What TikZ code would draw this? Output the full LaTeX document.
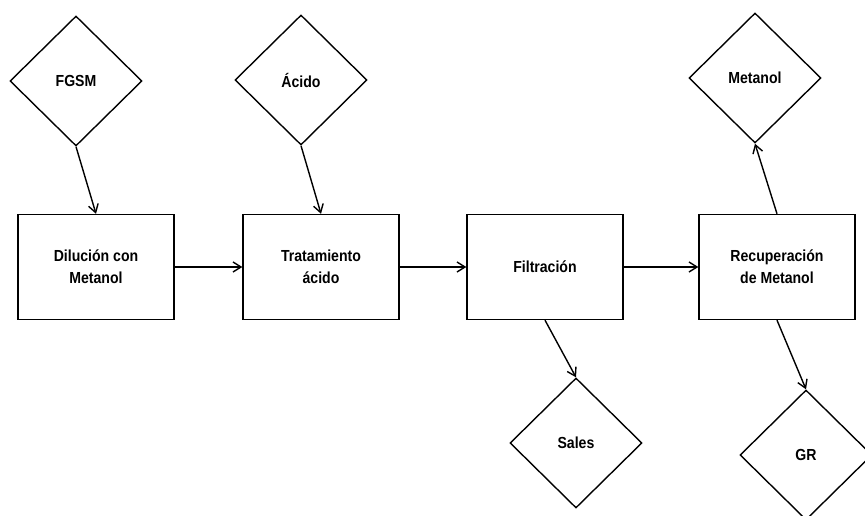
\documentclass[tikz,border=0pt]{standalone}
\usepackage{fontspec}
\setmainfont{Liberation Sans}[FakeStretch=0.88]
\usetikzlibrary{shapes.geometric,arrows.meta}

\tikzset{
    etapa/.style={draw, line width=1.4pt, minimum width=156pt, minimum height=105pt, align=center, font=\fontsize{16}{22}\selectfont\bfseries},
    flujo/.style={draw, line width=1.4pt, diamond, minimum width=132pt, minimum height=130pt, inner sep=0pt, font=\fontsize{16}{20}\selectfont\bfseries},
    flecha/.style={-{Straight Barb[length=8pt,width=10pt]}, line width=1.4pt}
}

\begin{document}
\begin{tikzpicture}[x=1pt,y=-1pt]
        \useasboundingbox (0,0) rectangle (865,516);

        \node[etapa] (dil) at (96,267) {Dilución con\\Metanol};
        \node[etapa] (trat) at (321,267) {Tratamiento\\ácido};
        \node[etapa] (fil) at (545,267) {Filtración};
        \node[etapa] (rec) at (777,267) {Recuperación\\de Metanol};

        \node[flujo] (fgsm) at (76,81) {FGSM};
        \node[flujo] (acido) at (301,80) {Ácido};
        \node[flujo] (met) at (755,78) {Metanol};
        \node[flujo] (sales) at (576,443) {Sales};
        \node[flujo] (gr) at (806,455) {GR};

        \draw[flecha] (fgsm.south) -- (dil.north);
        \draw[flecha] (acido.south) -- (trat.north);
        \draw[flecha] (dil) -- (trat);
        \draw[flecha] (trat) -- (fil);
        \draw[flecha] (fil) -- (rec);
        \draw[flecha] (rec.north) -- (met.south);
        \draw[flecha] (fil.south) -- (sales.north);
        \draw[flecha] (rec.south) -- (gr.north);
    \end{tikzpicture}
\end{document}
